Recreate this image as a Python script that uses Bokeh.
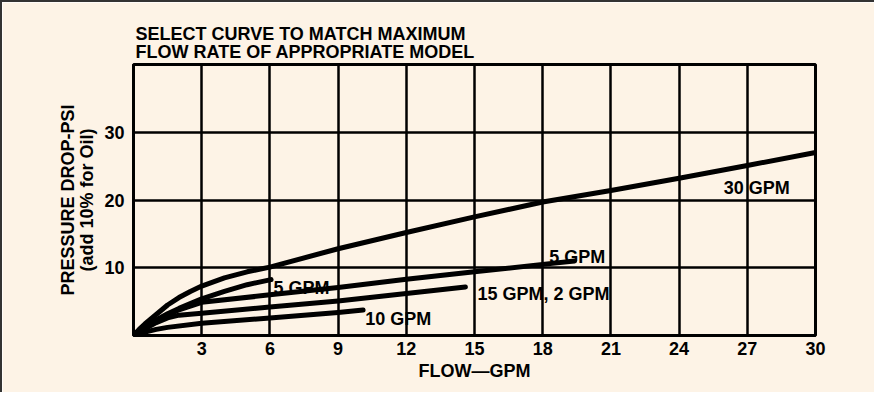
import math
from bokeh.plotting import figure
from bokeh.models import Range1d, FixedTicker, ColumnDataSource, Title
from bokeh.core.properties import value
from bokeh.embed import file_html
from bokeh.resources import INLINE

# ---- data ----
title_lines = ["SELECT CURVE TO MATCH MAXIMUM", "FLOW RATE OF APPROPRIATE MODEL"]
y_label_lines = ["PRESSURE DROP-PSI", "(add 10% for Oil)"]
x_label = "FLOW\u2014GPM"
x_ticks = [3, 6, 9, 12, 15, 18, 21, 24, 27, 30]
y_ticks = [10, 20, 30]

flow_30gpm = [0, 0.25, 0.5, 0.75, 1, 1.5, 2, 2.5, 3, 4, 5, 6, 9, 12, 15, 18, 21, 24, 27, 30]
psi_30gpm = [0, 0.9, 1.7, 2.4, 3.1, 4.5, 5.6, 6.5, 7.3, 8.5, 9.4, 10.1, 12.8, 15.2, 17.5, 19.7, 21.4, 23.2, 25.1, 27.0]

flow_5gpm_short = [0, 0.5, 1, 1.5, 2, 3, 4, 5, 6.05]
psi_5gpm_short = [0, 1.2, 2.3, 3.2, 4.0, 5.4, 6.5, 7.5, 8.25]

flow_5gpm_long = [0, 0.5, 1, 1.5, 2, 3, 6, 9, 12, 15, 18, 19.4]
psi_5gpm_long = [0, 1.1, 2.1, 3.0, 3.8, 4.9, 6.0, 7.1, 8.3, 9.4, 10.5, 11.0]

flow_15gpm = [0, 0.5, 1, 1.5, 2, 3, 6, 9, 12, 14.6]
psi_15gpm = [0, 1.0, 1.9, 2.6, 3.0, 3.3, 4.2, 5.1, 6.2, 7.15]

flow_10gpm = [0, 0.5, 1, 1.5, 3, 6, 9, 10.1]
psi_10gpm = [0, 0.5, 0.9, 1.2, 1.8, 2.6, 3.4, 3.75]

curve_labels = ["5 GPM", "10 GPM", "15 GPM, 2 GPM", "5 GPM", "30 GPM"]
curve_label_x = [6.16, 10.19, 15.13, 18.29, 25.96]
curve_label_y = [7.08, 2.5, 6.13, 11.66, 21.7]

# ---- styling ----
CREAM = "#FDF3E6"
FONT = "Liberation Sans"

p = figure(
    width=874, height=392,
    x_range=Range1d(0, 30), y_range=Range1d(0, 40),
    output_backend="svg", toolbar_location=None,
    background_fill_color=CREAM, border_fill_color=CREAM,
    min_border_left=131, min_border_right=61,
    min_border_top=62, min_border_bottom=59,
)
p.styles = {"border-left": "2px solid #333333", "border-top": "2px solid #333333"}
p.outline_line_color = "black"
p.outline_line_width = 3
p.outline_line_alpha = 1.0

for ax, ticks in ((p.xaxis, x_ticks), (p.yaxis, y_ticks)):
    ax.ticker = FixedTicker(ticks=ticks)
    ax.major_tick_line_color = None
    ax.minor_tick_line_color = None
    ax.axis_line_color = "black"
    ax.axis_line_width = 3
    ax.major_label_text_font = FONT
    ax.major_label_text_font_style = "bold"
    ax.major_label_text_font_size = "18px"
    ax.major_label_text_color = "black"
    ax.axis_label_text_font = FONT
    ax.axis_label_text_font_style = "bold"
    ax.axis_label_text_font_size = "18px"
    ax.axis_label_text_color = "black"

p.xaxis.major_label_standoff = 0
p.yaxis.major_label_standoff = 3
p.xaxis.axis_label = x_label
p.xaxis.axis_label_standoff = 3
p.yaxis.axis_label = "\n".join(y_label_lines)
p.yaxis.axis_label_text_line_height = 0.95
p.yaxis.axis_label_standoff = 4

p.xgrid.ticker = FixedTicker(ticks=x_ticks)
p.ygrid.ticker = FixedTicker(ticks=y_ticks)
for g in (p.xgrid, p.ygrid):
    g.grid_line_color = "black"
    g.grid_line_width = 2.5
    g.grid_line_alpha = 1.0

curves = [
    (flow_30gpm, psi_30gpm),
    (flow_5gpm_short, psi_5gpm_short),
    (flow_5gpm_long, psi_5gpm_long),
    (flow_15gpm, psi_15gpm),
    (flow_10gpm, psi_10gpm),
]
for fx, fy in curves:
    p.line(fx, fy, line_width=5, line_color="black", line_cap="round", line_join="round")

src = ColumnDataSource(dict(x=curve_label_x, y=curve_label_y, t=curve_labels))
p.text(x="x", y="y", text="t", source=src, text_font=value(FONT), text_font_style="bold",
       text_font_size="18px", text_color="black", text_baseline="alphabetic", text_align="left")

# two-line title, tight spacing, left aligned with the plot area
p.add_layout(Title(text="\n".join(title_lines), align="left", offset=2, standoff=5,
                   text_font=FONT, text_font_style="bold", text_font_size="18px",
                   text_color="black", text_line_height=0.88), "above")

open("out.html", "w").write(file_html(p, INLINE))
